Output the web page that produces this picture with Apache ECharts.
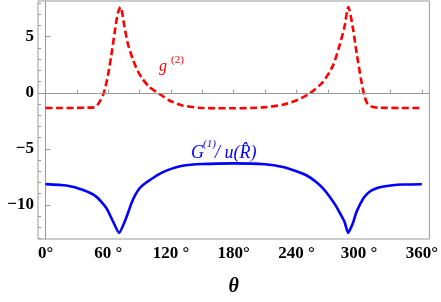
<!DOCTYPE html>
<html>
<head>
<meta charset="utf-8">
<script src="https://cdn.jsdelivr.net/npm/echarts@6/dist/echarts.min.js"></script>
<style>html,body{margin:0;padding:0;background:#fff}#c{width:441px;height:302px}</style>
</head>
<body>
<div id="c"></div>
<script>
// ---- data ----
var gTheta = [0, 15, 30, 40, 46, 48.4, 51.6, 55.8, 59.6, 62.8, 66, 69.1, 71.7, 75.5, 78.7, 83.5, 88.2, 93, 99.4, 109, 118.5, 131, 147, 163, 180, 197, 211, 227, 239.7, 252, 265, 274.7, 281, 286, 289.7, 293.8, 297.6, 301.8, 305, 308, 313, 320, 340, 360];
var gValues = [-1.36, -1.36, -1.35, -1.33, -1.3, -1.22, -0.84, 0, 1.5, 3.26, 5.3, 7.08, 7.65, 5.9, 4.4, 3.0, 1.94, 1.21, 0.5, -0.1, -0.69, -1.13, -1.34, -1.38, -1.38, -1.36, -1.28, -1.07, -0.69, -0.1, 0.92, 2.38, 4.14, 5.9, 7.65, 5.9, 3.56, 1.21, -0.26, -0.98, -1.28, -1.33, -1.36, -1.36];
var GTheta = [0, 20, 36, 48.5, 58.3, 64.6, 70.4, 75.8, 79, 82.2, 86, 90.2, 95, 99.7, 107, 115.6, 131, 150, 180, 210, 227, 240, 249.5, 258, 265.4, 272, 278.2, 282, 286, 289.5, 294, 297, 300.5, 305, 310, 316, 322, 332, 342, 360];
var GValues = [-8.15, -8.28, -8.68, -9.27, -10.3, -11.49, -12.5, -11.49, -10.7, -9.85, -9.1, -8.5, -8.1, -7.8, -7.35, -6.95, -6.52, -6.36, -6.3, -6.38, -6.62, -7.0, -7.36, -7.9, -8.54, -9.3, -10.16, -10.8, -11.5, -12.5, -11.64, -10.75, -10.02, -9.3, -8.83, -8.55, -8.39, -8.25, -8.19, -8.16];
var xTickValues = [0, 30, 60, 90, 120, 150, 180, 210, 240, 270, 300, 330, 360];
var xLabelValues = [0, 60, 120, 180, 240, 300, 360];
var xLabelTexts = ['0°', '60 °', '120 °', '180°', '240 °', '300 °', '360°'];
var yMajorValues = [-10, -5, 0, 5];
var yLabelTexts = ['\u221210', '\u22125', '0', '5'];
var yMinorValues = [-13, -12, -11, -9, -8, -7, -6, -4, -3, -2, -1, 1, 2, 3, 4, 6, 7, 8];

function zip(a, b) { return a.map(function (v, i) { return [v, b[i]]; }); }

var frame = '#999999';
var serif = '"Liberation Serif", "Times New Roman", serif';
var tickFont = {fontFamily: serif, fontWeight: 'bold', fontSize: 17, color: '#000'};
var chart = echarts.init(document.getElementById('c'), null, {renderer: 'canvas'});
chart.setOption({
  animation: false,
  textStyle: {fontFamily: serif},
  grid: {left: 38, right: 11, top: 1, bottom: 61, show: true, borderColor: frame, borderWidth: 1},
  xAxis: {
    type: 'value', min: -7.2, max: 367.2,
    name: 'θ', nameLocation: 'middle', nameGap: 38,
    nameTextStyle: {fontFamily: serif, fontStyle: 'italic', fontWeight: 'bold', fontSize: 20, color: '#000'},
    axisLine: {show: true, lineStyle: {color: frame, width: 1}},
    axisTick: {show: true, inside: true, length: 3, customValues: xTickValues, lineStyle: {color: frame}},
    axisLabel: {
      show: true, margin: 6, customValues: xLabelValues,
      fontFamily: serif, fontWeight: 'bold', fontSize: 17, color: '#000',
      rich: {t: tickFont},
      formatter: function (v) { var i = xLabelValues.indexOf(Math.round(v)); return i >= 0 ? '{t|' + xLabelTexts[i] + '}' : ''; }
    },
    splitLine: {show: false}
  },
  yAxis: [{
    type: 'value', min: -13.05, max: 8.19,
    axisLine: {show: true, lineStyle: {color: frame, width: 1}},
    axisTick: {show: true, inside: true, length: 5, customValues: yMajorValues, lineStyle: {color: frame}},
    axisLabel: {
      show: true, margin: 4, customValues: yMajorValues,
      fontFamily: serif, fontWeight: 'bold', fontSize: 17, color: '#000',
      rich: {t: tickFont},
      formatter: function (v) { var i = yMajorValues.indexOf(Math.round(v)); return i >= 0 ? '{t|' + yLabelTexts[i] + '}' : ''; }
    },
    splitLine: {show: false}
  }, {
    type: 'value', min: -13.05, max: 8.19, position: 'left', offset: 0,
    axisLine: {show: false},
    axisTick: {show: true, inside: true, length: 3, customValues: yMinorValues, lineStyle: {color: frame}},
    axisLabel: {show: false},
    splitLine: {show: false}
  }],
  series: [{
    type: 'line', data: zip(gTheta, gValues), showSymbol: false, smooth: 0.25,
    lineStyle: {color: '#ff0000', width: 2.6, type: [7, 3.5]},
    markLine: {
      silent: true, symbol: ['none', 'none'], label: {show: false},
      lineStyle: {color: frame, width: 1, type: 'solid'},
      data: [{yAxis: 0}]
    },
    z: 3
  }, {
    type: 'line', data: zip(GTheta, GValues), showSymbol: false, smooth: 0.2,
    lineStyle: {color: '#0000ff', width: 2.6},
    z: 3
  }],
  graphic: [
    {type: 'text', left: 159, top: 59, style: {text: 'g', fontFamily: serif, fontStyle: 'italic', fontSize: 16, fill: '#ff0000'}},
    {type: 'text', left: 171, top: 55, style: {text: '(2)', fontFamily: serif, fontSize: 11, fill: '#ff0000'}},
    {type: 'text', left: 191, top: 144, style: {text: 'G', fontFamily: serif, fontStyle: 'italic', fontSize: 18, fill: '#0000ff'}},
    {type: 'text', left: 203, top: 139, style: {text: '(1)', fontFamily: serif, fontStyle: 'italic', fontSize: 11, fill: '#0000ff'}},
    {type: 'text', left: 215, top: 144, style: {text: '/ u(R\u0302)', fontFamily: serif, fontStyle: 'italic', fontSize: 18, fill: '#0000ff'}}
  ]
});
</script>
</body>
</html>
